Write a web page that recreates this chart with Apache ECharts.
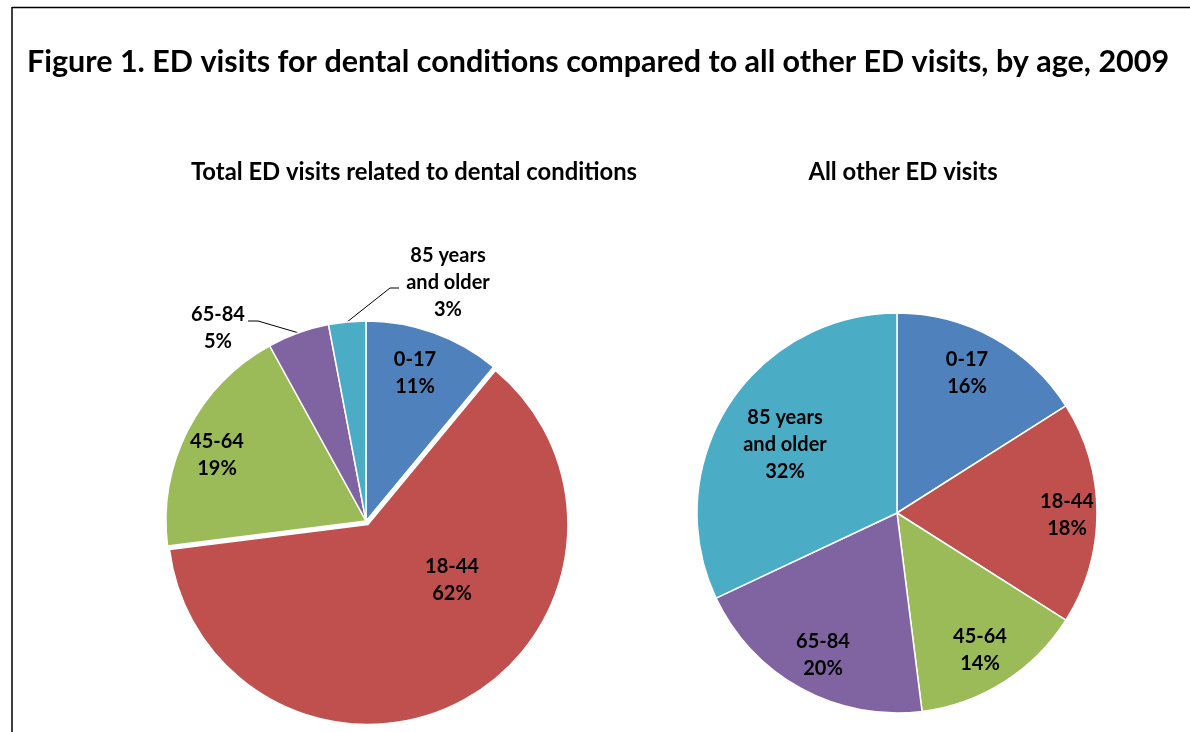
<!DOCTYPE html>
<html>
<head>
<meta charset="utf-8">
<script src="https://cdn.jsdelivr.net/npm/echarts@6/dist/echarts.min.js"></script>
<style>
html,body{margin:0;padding:0;background:#fff;}
#chart{width:1190px;height:732px;}
</style>
</head>
<body>
<div id="chart"></div>
<script>
// ---- data ----
const categories = ['0-17', '18-44', '45-64', '65-84', '85 years\nand older'];
const dentalValues = [11, 62, 19, 5, 3];
const otherValues = [16, 18, 14, 20, 32];
const titleText = 'Figure 1. ED visits for dental conditions compared to all other ED visits, by age, 2009';
const dentalTitle = 'Total ED visits related to dental conditions';
const otherTitle = 'All other ED visits';

// ---- styles ----
const colors = ['#4F81BD', '#C0504D', '#9BBB59', '#8064A2', '#4BACC6'];
const FONT = 'Lato, "Open Sans", sans-serif';
const TRANSP = 'rgba(0,0,0,0)';

function fitSize(text, targetW, base) {
  const c = document.createElement('canvas').getContext('2d');
  c.font = 'bold ' + base + 'px Lato';
  const w = c.measureText(text).width;
  return Math.round(base * targetW / w * 10) / 10;
}
const titleSize = fitSize(titleText, 1141, 26);
const subSize = fitSize(dentalTitle, 446, 20);

const leftC = [366, 521], rightC = [897, 513], R = 200;
const explodeIndex = 1, explodeDist = 4;
// centre of the exploded slice, moved along its mid angle
const totalDental = dentalValues.reduce((a, b) => a + b, 0);
const beforeExp = dentalValues.slice(0, explodeIndex).reduce((a, b) => a + b, 0);
const midAng = (beforeExp + dentalValues[explodeIndex] / 2) / totalDental * 2 * Math.PI;
const expC = [leftC[0] + explodeDist * Math.sin(midAng), leftC[1] - explodeDist * Math.cos(midAng)];

// label centre offsets from pie centre
const leftLabelOff = [[49, -148], [86, 59], [-149, -66], [-148, -193], [82, -238]];
const rightLabelOff = [[70, -140], [170, 2], [83, 137], [-74, 142], [-112, -68]];
// leader line bends for outside labels (relative to centre)
const leftLeader = { 3: [[-108, -200], [-118, -200]], 4: [[24, -233], [33, -233]] };

const chart = echarts.init(document.getElementById('chart'), null, { renderer: 'canvas' });

const labelStyle = {
  show: true,
  position: 'inside',
  formatter: '{b}\n{c}%',
  color: '#000',
  fontFamily: FONT,
  fontWeight: 'bold',
  fontSize: 20,
  lineHeight: 27,
  align: 'center'
};

// main left pie: all slices except the exploded one
const dentalData = categories.map((n, i) => {
  const d = { name: n, value: dentalValues[i], itemStyle: { color: colors[i] } };
  if (i === explodeIndex) {
    d.itemStyle = { color: TRANSP, borderWidth: 0 };
    d.label = { show: false };
  }
  if (i >= 3) {
    d.label = { position: 'outside' };
    d.labelLine = { show: true };
  }
  return d;
});
// exploded slice only
const dentalExpData = categories.map((n, i) => {
  const d = { name: n, value: dentalValues[i], itemStyle: { color: colors[i] } };
  if (i !== explodeIndex) {
    d.itemStyle = { color: TRANSP, borderWidth: 0 };
    d.label = { show: false };
  }
  return d;
});
const otherData = categories.map((n, i) => ({ name: n, value: otherValues[i], itemStyle: { color: colors[i] } }));

function leftLayout(p) {
  const i = p.dataIndex;
  const o = leftLabelOff[i];
  const res = { x: leftC[0] + o[0], y: leftC[1] + o[1], align: 'center', verticalAlign: 'middle' };
  if (leftLeader[i] && p.labelLinePoints) {
    const pts = [p.labelLinePoints[0].slice()];
    leftLeader[i].forEach(q => pts.push([leftC[0] + q[0], leftC[1] + q[1]]));
    res.labelLinePoints = pts;
  }
  return res;
}

const option = {
  animation: false,
  color: colors,
  title: [
    { text: titleText, left: 22, top: 42,
      textStyle: { fontFamily: FONT, fontWeight: 'bold', fontSize: titleSize, color: '#000' } },
    { text: dentalTitle, left: 409, top: 155, textAlign: 'center',
      textStyle: { fontFamily: FONT, fontWeight: 'bold', fontSize: subSize, color: '#000' } },
    { text: otherTitle, left: 898, top: 155, textAlign: 'center',
      textStyle: { fontFamily: FONT, fontWeight: 'bold', fontSize: subSize, color: '#000' } }
  ],
  graphic: [
    { type: 'line', shape: { x1: 12, y1: 7.5, x2: 1190, y2: 7.5 }, style: { stroke: '#000', lineWidth: 1.5 } },
    { type: 'line', shape: { x1: 12, y1: 7, x2: 12, y2: 732 }, style: { stroke: '#000', lineWidth: 1.5 } }
  ],
  series: [
    {
      type: 'pie',
      center: expC,
      radius: R,
      startAngle: 90,
      clockwise: true,
      selectedMode: false,
      avoidLabelOverlap: false,
      itemStyle: { borderColor: '#fff', borderWidth: 1.5 },
      emphasis: { disabled: true },
      label: labelStyle,
      labelLine: { show: false },
      labelLayout: leftLayout,
      data: dentalExpData
    },
    {
      type: 'pie',
      center: leftC,
      radius: R,
      startAngle: 90,
      clockwise: true,
      selectedMode: false,
      avoidLabelOverlap: false,
      itemStyle: { borderColor: '#fff', borderWidth: 1.5 },
      emphasis: { disabled: true },
      label: labelStyle,
      labelLine: { show: false, lineStyle: { color: '#000', width: 1 }, length: 10, length2: 10 },
      labelLayout: leftLayout,
      data: dentalData
    },
    {
      type: 'pie',
      center: rightC,
      radius: R,
      startAngle: 90,
      clockwise: true,
      selectedMode: false,
      avoidLabelOverlap: false,
      itemStyle: { borderColor: '#fff', borderWidth: 1.5 },
      emphasis: { disabled: true },
      label: labelStyle,
      labelLine: { show: false },
      labelLayout: function (p) {
        const o = rightLabelOff[p.dataIndex];
        return { x: rightC[0] + o[0], y: rightC[1] + o[1], align: 'center', verticalAlign: 'middle' };
      },
      data: otherData
    }
  ]
};
chart.setOption(option);
</script>
</body>
</html>
